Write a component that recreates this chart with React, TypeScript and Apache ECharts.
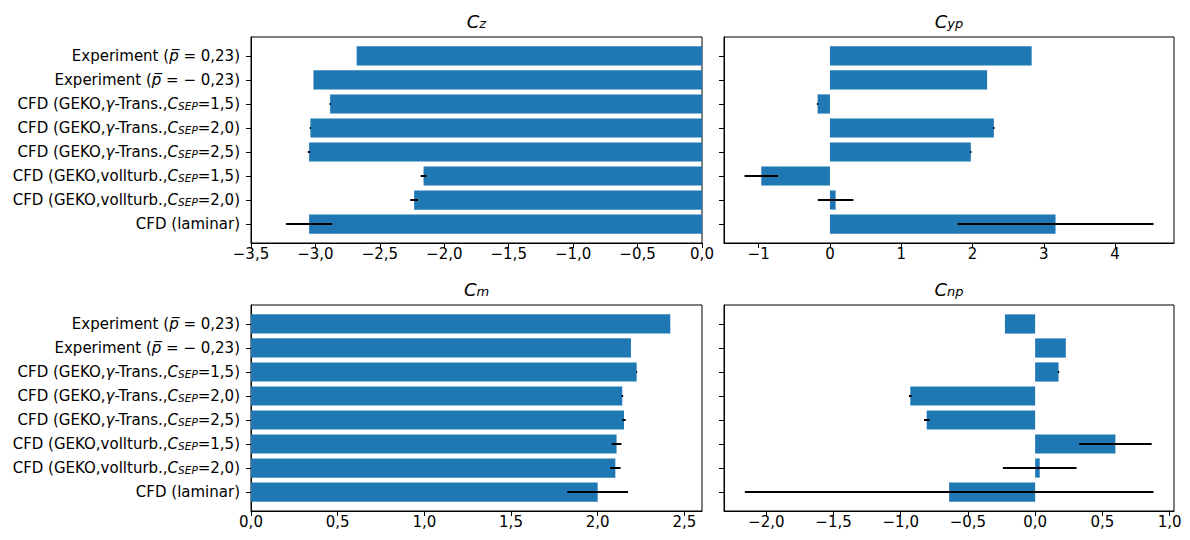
import React, { useEffect, useRef } from 'react';
import * as echarts from 'echarts';

// Row labels, top to bottom (rich-text markup for italic / subscript parts)
const categories = [
  'Experiment ({i|p\u0305} = 0,23)',
  'Experiment ({i|p\u0305} = \u2212 0,23)',
  'CFD (GEKO,{i|\u03b3}-Trans.,{i|C}{s|SEP}=1,5)',
  'CFD (GEKO,{i|\u03b3}-Trans.,{i|C}{s|SEP}=2,0)',
  'CFD (GEKO,{i|\u03b3}-Trans.,{i|C}{s|SEP}=2,5)',
  'CFD (GEKO,vollturb.,{i|C}{s|SEP}=1,5)',
  'CFD (GEKO,vollturb.,{i|C}{s|SEP}=2,0)',
  'CFD (laminar)',
];

const czValues = [-2.68, -3.015, -2.886, -3.039, -3.049, -2.161, -2.234, -3.049];
const czErrors = [0, 0, 0.005, 0.005, 0.01, 0.022, 0.03, 0.18];
const cypValues = [2.83, 2.205, -0.173, 2.3, 1.977, -0.963, 0.08, 3.165];
const cypErrors = [0, 0, 0.01, 0.01, 0.01, 0.235, 0.25, 1.375];
const cmValues = [2.419, 2.192, 2.225, 2.142, 2.152, 2.109, 2.102, 2.0];
const cmErrors = [0, 0, 0.003, 0.005, 0.01, 0.028, 0.03, 0.175];
const cnpValues = [-0.225, 0.228, 0.174, -0.929, -0.807, 0.597, 0.034, -0.64];
const cnpErrors = [0, 0, 0.005, 0.01, 0.02, 0.27, 0.274, 1.52];

const czTicks = [-3.5, -3.0, -2.5, -2.0, -1.5, -1.0, -0.5, 0.0];
const cypTicks = [-1, 0, 1, 2, 3, 4];
const cmTicks = [0.0, 0.5, 1.0, 1.5, 2.0, 2.5];
const cnpTicks = [-2.0, -1.5, -1.0, -0.5, 0.0, 0.5, 1.0];

const titles = ['{c|C}{s|z}', '{c|C}{s|yp}', '{c|C}{s|m}', '{c|C}{s|np}'];

const BAR_COLOR = '#1f77b4';
const FONT = 'DejaVu Sans';
const LABEL_SIZE = 15;

const fmt1 = (v: number) => (v < -1e-9 ? '\u2212' : '') + Math.abs(v).toFixed(1).replace('.', ',');
const fmt0 = (v: number) => (v < -1e-9 ? '\u2212' : '') + Math.abs(v).toFixed(0);

const grids = [
  { left: 251, top: 37, width: 451, height: 206 },
  { left: 724, top: 37, width: 450, height: 206 },
  { left: 251, top: 305, width: 451, height: 206 },
  { left: 724, top: 305, width: 450, height: 206 },
];

export default function App() {
  const ref = useRef<HTMLDivElement>(null);
  useEffect(() => {
    if (!ref.current) return;
    const chart = echarts.init(ref.current, undefined, { renderer: 'svg' });
    const idx = [0, 1, 2, 3, 4, 5, 6, 7];
    const panels = [
      { values: czValues, errors: czErrors, ticks: czTicks, min: -3.5, max: 0, fmt: fmt1, labels: true },
      { values: cypValues, errors: cypErrors, ticks: cypTicks, min: -1.486, max: 4.827, fmt: fmt0, labels: false },
      { values: cmValues, errors: cmErrors, ticks: cmTicks, min: 0, max: 2.602, fmt: fmt1, labels: true },
      { values: cnpValues, errors: cnpErrors, ticks: cnpTicks, min: -2.315, max: 1.033, fmt: fmt1, labels: false },
    ];
    const axisLine = { show: true, onZero: false, lineStyle: { color: '#000', width: 1 } };
    const xAxis = panels.map((p, k) => ({
      type: 'value',
      gridIndex: k,
      min: p.min,
      max: p.max,
      splitLine: { show: false },
      axisLine,
      axisTick: { show: true, length: 5, customValues: p.ticks, lineStyle: { color: '#000' } },
      axisLabel: {
        show: true,
        customValues: p.ticks,
        formatter: (v: number) => p.fmt(v),
        color: '#000',
        fontFamily: FONT,
        fontSize: LABEL_SIZE,
        margin: 3,
      },
    }));
    const yAxis = panels.map((p, k) => ({
      type: 'value',
      gridIndex: k,
      min: -0.79,
      max: 7.79,
      inverse: true,
      splitLine: { show: false },
      axisLine,
      axisTick: { show: true, length: 5, customValues: idx, lineStyle: { color: '#000' } },
      axisLabel: {
        show: p.labels,
        customValues: idx,
        formatter: (v: number) => categories[Math.round(v)] ?? '',
        color: '#000',
        fontFamily: FONT,
        fontSize: LABEL_SIZE,
        margin: 11,
        rich: {
          i: { fontFamily: FONT, fontSize: LABEL_SIZE, fontStyle: 'italic', color: '#000' },
          s: { fontFamily: FONT, fontSize: 10.5, fontStyle: 'italic', color: '#000', verticalAlign: 'bottom', lineHeight: 11 },
        },
      },
    }));
    const series: any[] = [];
    panels.forEach((p, k) => {
      series.push({
        type: 'custom',
        xAxisIndex: k,
        yAxisIndex: k,
        data: p.values.map((v, i) => [i, v]),
        encode: { x: 1, y: 0 },
        renderItem: (_params: any, api: any) => {
          const i = api.value(0);
          const v = api.value(1);
          const a = api.coord([0, i - 0.4]);
          const b = api.coord([v, i + 0.4]);
          return {
            type: 'rect',
            shape: {
              x: Math.min(a[0], b[0]),
              y: Math.min(a[1], b[1]),
              width: Math.abs(b[0] - a[0]),
              height: Math.abs(b[1] - a[1]),
            },
            style: { fill: BAR_COLOR },
          };
        },
      });
      series.push({
        type: 'custom',
        xAxisIndex: k,
        yAxisIndex: k,
        data: p.values.map((v, i) => [i, v, p.errors[i]]),
        encode: { x: 1, y: 0 },
        z: 5,
        renderItem: (_params: any, api: any) => {
          const i = api.value(0);
          const v = api.value(1);
          const e = api.value(2);
          if (!e) return { type: 'group', children: [] };
          const a = api.coord([v - e, i]);
          const b = api.coord([v + e, i]);
          return {
            type: 'line',
            shape: { x1: a[0], y1: a[1], x2: Math.max(b[0], a[0] + 1), y2: b[1] },
            style: { stroke: '#000', lineWidth: 2 },
          };
        },
      });
    });
    const titleCenters = grids.map((g) => g.left + g.width / 2);
    const graphic = titles.map((t, k) => ({
      type: 'text',
      x: titleCenters[k],
      y: grids[k].top - 16,
      style: {
        text: t,
        align: 'center',
        verticalAlign: 'middle',
        fill: '#000',
        rich: {
          c: { fontFamily: FONT, fontSize: 18, fontStyle: 'italic', fill: '#000', color: '#000' },
          s: { fontFamily: FONT, fontSize: 13, fontStyle: 'italic', fill: '#000', color: '#000', verticalAlign: 'bottom', lineHeight: 13 },
        },
      },
    }));
    chart.setOption({
      animation: false,
      backgroundColor: '#fff',
      grid: grids.map((g) => ({ ...g, show: true, borderColor: '#000', borderWidth: 1, backgroundColor: 'transparent', containLabel: false })),
      xAxis,
      yAxis,
      series,
      graphic,
    });
    return () => chart.dispose();
  }, []);
  return <div ref={ref} style={{ position: 'fixed', left: 0, top: 0, width: 1190, height: 540, background: '#fff' }} />;
}
